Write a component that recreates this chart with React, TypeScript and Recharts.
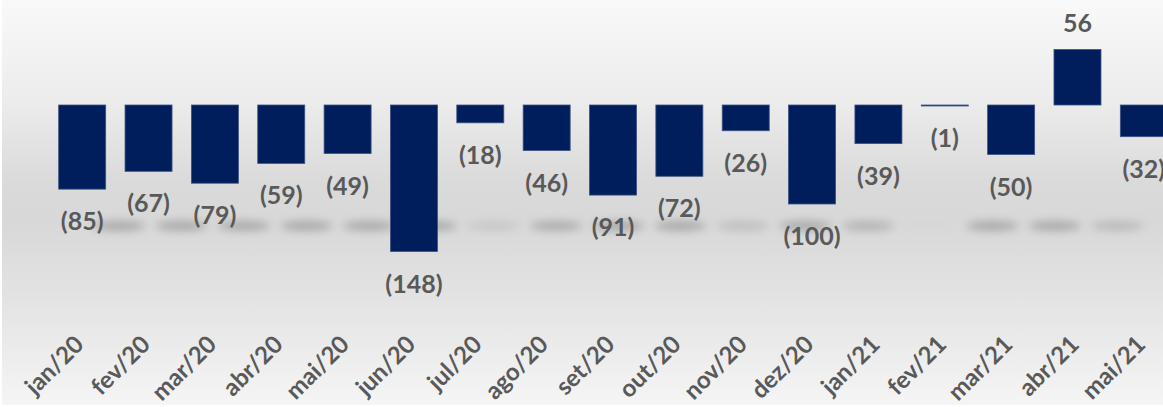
import React from 'react';
import { BarChart, Bar, XAxis, YAxis, LabelList } from 'recharts';

const categories = ['jan/20', 'fev/20', 'mar/20', 'abr/20', 'mai/20', 'jun/20', 'jul/20', 'ago/20', 'set/20', 'out/20', 'nov/20', 'dez/20', 'jan/21', 'fev/21', 'mar/21', 'abr/21', 'mai/21'];
const values = [-85, -67, -79, -59, -49, -148, -18, -46, -91, -72, -26, -100, -39, -1, -50, 56, -32];
const yDomain = [-200, 100];

const data = categories.map((c, i) => ({ name: c, value: values[i] }));

const FONT = 'Lato, "Open Sans", sans-serif';
const BAR_COLOR = '#001E5C';
const TEXT_COLOR = '#595959';

const fmt = (v: number) => (v < 0 ? `(${Math.abs(v)})` : `${v}`);

const BarShape = (props: any) => {
  const { x, y, width, height, value } = props;
  const top = Math.min(y, y + height);
  const h = Math.abs(height);
  const v = Array.isArray(value) ? value[1] - value[0] : value;
  const cx = x + width / 2;
  const shadowX = cx + 0.06 * (700 - cx);
  const op = Math.min(1, Math.abs(v) / 50) * 0.6;
  return (
    <g>
      <ellipse cx={shadowX} cy={226} rx={width * 0.55} ry={5} fill="#8a8a8a" opacity={op} filter="url(#blurShadow)" />
      <rect x={x} y={top} width={width} height={Math.max(h, 1)} fill={BAR_COLOR} stroke="#3d5283" strokeWidth={0.8} />
    </g>
  );
};

const ValueLabel = (props: any) => {
  const { x, y, width, height, value } = props;
  const top = Math.min(y, y + height);
  const bottom = Math.max(y, y + height);
  const cx = x + width / 2;
  const ly = value < 0 ? bottom + 31 : top - 28;
  return (
    <text x={cx} y={ly} textAnchor="middle" dominantBaseline="central" fontFamily={FONT} fontWeight={700} fontSize={25} fill={TEXT_COLOR}>
      {fmt(value)}
    </text>
  );
};

const XTick = (props: any) => {
  const { x, y, payload } = props;
  return (
    <g transform={`translate(${x + 3},${y + 43})`}>
      <text x={0} y={0} textAnchor="end" transform="rotate(-45)" fontFamily={FONT} fontWeight={700} fontSize={24} fill={TEXT_COLOR}>
        {payload.value}
      </text>
    </g>
  );
};

export default function App() {
  return (
    <div
      style={{
        position: 'fixed',
        left: 0,
        top: 0,
        width: 1163,
        height: 407,
        overflow: 'hidden',
        background: '#ffffff',
      }}
    >
      <div
        style={{
          position: 'absolute',
          left: 2,
          top: 0,
          right: 0,
          bottom: 2,
          background: 'linear-gradient(to bottom, #f9f9f9 0%, #ececec 25%, #dadada 45%, #d8d8d8 55%, #e4e4e4 75%, #f5f5f5 100%)',
        }}
      />
      <div style={{ position: 'absolute', left: 0, top: 0 }}>
        <BarChart width={1180} height={407} data={data} margin={{ top: 6, right: 3, bottom: 0, left: 49 }} barCategoryGap="14.6%">
          <defs>
            <filter id="blurShadow" x="-50%" y="-200%" width="200%" height="500%">
              <feGaussianBlur stdDeviation="4" />
            </filter>
          </defs>
          <YAxis hide domain={yDomain} />
          <XAxis dataKey="name" axisLine={false} tickLine={false} tickSize={0} tickMargin={0} height={104} interval={0} tick={<XTick />} />
          <Bar dataKey="value" isAnimationActive={false} shape={<BarShape />}>
            <LabelList dataKey="value" content={<ValueLabel />} />
          </Bar>
        </BarChart>
      </div>
    </div>
  );
}
